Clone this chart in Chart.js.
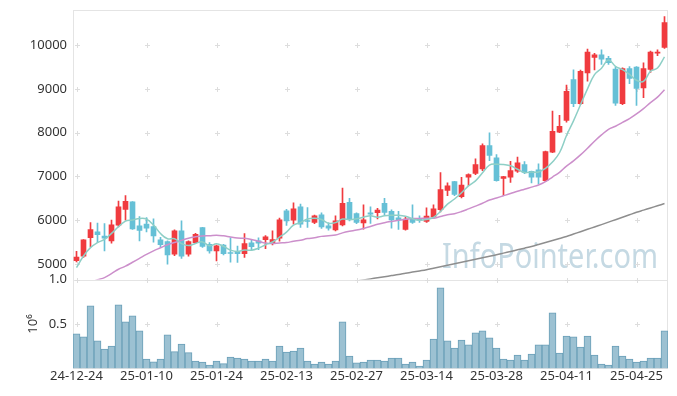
<!DOCTYPE html>
<html>
<head>
<meta charset="utf-8">
<script src="https://cdn.jsdelivr.net/npm/chart.js@4.4.1/dist/chart.umd.min.js"></script>
<style>
  html, body { margin: 0; padding: 0; background: #fff; }
  #wrap { width: 677px; height: 396px; position: relative; }
</style>
</head>
<body>
<div id="wrap"><canvas id="chart"></canvas></div>
<script>
// trading days (YY-MM-DD)
const dates = ['24-12-24','24-12-26','24-12-27','24-12-30','25-01-02','25-01-03','25-01-06','25-01-07','25-01-08','25-01-09',
  '25-01-10','25-01-13','25-01-14','25-01-15','25-01-16','25-01-17','25-01-20','25-01-21','25-01-22','25-01-23',
  '25-01-24','25-01-31','25-02-03','25-02-04','25-02-05','25-02-06','25-02-07','25-02-10','25-02-11','25-02-12',
  '25-02-13','25-02-14','25-02-17','25-02-18','25-02-19','25-02-20','25-02-21','25-02-24','25-02-25','25-02-26',
  '25-02-27','25-02-28','25-03-04','25-03-05','25-03-06','25-03-07','25-03-10','25-03-11','25-03-12','25-03-13',
  '25-03-14','25-03-17','25-03-18','25-03-19','25-03-20','25-03-21','25-03-24','25-03-25','25-03-26','25-03-27',
  '25-03-28','25-03-31','25-04-01','25-04-02','25-04-03','25-04-04','25-04-07','25-04-08','25-04-09','25-04-10',
  '25-04-11','25-04-14','25-04-15','25-04-16','25-04-17','25-04-18','25-04-21','25-04-22','25-04-23','25-04-24',
  '25-04-25','25-04-28','25-04-29','25-04-30','25-05-02'];

const opens = [5075,5180,5600,5734,5640,5527,5888,6245,6420,5872,
  5910,5855,5550,5510,5222,5757,5222,5490,5830,5450,
  5298,5430,5260,5282,5236,5482,5527,5557,5465,5590,
  6216,6002,6307,5980,5947,6124,5872,5780,5894,6406,
  6154,5940,6170,6170,6383,6200,6055,5787,6025,6030,
  5970,6078,6240,6680,6881,6537,6980,7071,7172,7706,
  7424,6957,6980,7118,7270,7117,7150,6904,7553,8012,
  8280,9210,8663,9365,9717,9778,9694,9450,8663,9465,
  9495,9020,9442,9817,9947];

const highs = [5290,5560,5947,5933,5925,6002,6438,6560,6425,6085,
  6060,6030,5610,5530,5780,5986,5530,5700,5840,5490,
  5430,5450,5600,5410,5695,5545,5600,5650,5757,6050,
  6250,6395,6370,6290,6120,6170,5940,6100,6736,6500,
  6170,6353,6307,6270,6500,6238,6200,6070,6353,6100,
  6280,6350,7090,6855,6890,6980,7060,7400,7745,7998,
  7500,7000,7346,7439,7340,7120,7287,7580,8493,8395,
  9083,9434,9430,9908,9810,9890,9740,9500,9480,9510,
  9510,9594,9860,9890,10650];

const lows = [5050,5150,5390,5489,5298,5475,5849,6002,5790,5527,
  5730,5500,5390,4995,5190,5130,5180,5470,5380,5250,
  5070,5210,5040,5035,5150,5310,5330,5350,5435,5520,
  5880,5910,5833,5833,5920,5810,5770,5757,5870,5986,
  5920,5796,5925,6030,6120,5819,5787,5770,5925,5950,
  5947,6048,6190,6560,6560,6507,6789,7041,7133,7362,
  6890,6560,6865,7094,7060,6850,6830,6880,7540,7998,
  8240,8590,8640,9176,9434,9556,9557,8620,8640,9120,
  8624,8800,9374,9760,9924];

const closes = [5160,5550,5787,5672,5590,5894,6307,6430,5800,5765,
  5820,5642,5443,5206,5757,5180,5511,5680,5400,5298,
  5413,5236,5240,5236,5465,5397,5475,5620,5557,6009,
  5986,6261,5910,5970,6100,5849,5819,5986,6383,6025,
  5947,6009,6140,6230,6177,6009,6009,6025,5947,6000,
  6094,6261,6697,6785,6590,6805,7041,7270,7706,7477,
  6904,6995,7133,7309,7094,6980,6980,7569,8028,8142,
  8945,8663,9400,9840,9778,9679,9600,8670,9465,9235,
  9007,9465,9839,9830,10512];

// moving averages as drawn
const ma5 = [4915,5183,5374,5489,5560,5700,5850,5980,6005,6040,
  6025,5890,5695,5575,5575,5465,5420,5470,5505,5415,
  5460,5405,5317,5285,5318,5315,5363,5439,5503,5612,
  5729,5887,5945,6027,6045,6018,5930,5945,6027,6012,
  6032,6070,6101,6070,6101,6113,6113,6090,6033,5998,
  6015,6065,6200,6367,6485,6628,6784,6898,7082,7260,
  7280,7270,7243,7164,7087,7102,7099,7186,7330,7540,
  7933,8269,8636,8998,9325,9472,9659,9513,9437,9330,
  9195,9168,9402,9475,9731];

const ma20 = [4450,4520,4580,4640,4690,4780,4880,4950,5040,5130,
  5220,5300,5370,5440,5490,5540,5590,5620,5640,5646,
  5658,5643,5615,5593,5587,5562,5521,5480,5468,5480,
  5489,5520,5543,5581,5598,5631,5646,5661,5711,5747,
  5774,5812,5857,5907,5943,5973,6000,6020,6040,6039,
  6045,6045,6084,6125,6149,6197,6258,6322,6388,6461,
  6509,6558,6608,6662,6708,6756,6805,6882,6986,7093,
  7236,7356,7491,7644,7803,7947,8075,8145,8233,8320,
  8426,8549,8684,8810,8981];

const ma120 = [null,null,null,null,null,null,null,null,null,null,
  null,null,null,null,null,null,null,null,null,null,
  null,null,null,null,null,null,null,null,null,null,
  null,null,null,null,null,null,null,null,4560,4585,
  4610,4635,4660,4685,4710,4735,4760,4788,4815,4842,
  4870,4904,4938,4972,5006,5040,5074,5108,5142,5176,
  5210,5248,5286,5324,5362,5400,5446,5492,5538,5584,
  5630,5684,5738,5792,5846,5900,5956,6012,6068,6124,
  6180,6230,6280,6330,6380];

// volume, millions
const volume = [0.388,0.354,0.704,0.309,0.218,0.252,0.716,0.524,0.591,0.422,
  0.105,0.075,0.105,0.377,0.188,0.275,0.177,0.083,0.072,0.038,
  0.083,0.053,0.128,0.117,0.105,0.083,0.083,0.105,0.083,0.252,
  0.185,0.196,0.230,0.083,0.049,0.072,0.049,0.083,0.524,0.139,
  0.064,0.072,0.094,0.094,0.083,0.117,0.117,0.049,0.072,0.026,
  0.094,0.331,0.908,0.309,0.230,0.320,0.264,0.399,0.422,0.343,
  0.230,0.105,0.094,0.151,0.094,0.162,0.264,0.264,0.625,0.173,
  0.365,0.354,0.241,0.365,0.151,0.049,0.038,0.252,0.139,0.105,
  0.072,0.083,0.117,0.117,0.422];

const priceTicks = [5000, 6000, 7000, 8000, 9000, 10000];
const volumeTicks = [0.5, 1.0];

const UP = '#f03b3f';
const DOWN = '#66c0d6';
const candleColors = opens.map((o, i) => closes[i] >= o ? UP : DOWN);
const FONT = { family: '"Noto Sans", "DejaVu Sans", sans-serif', size: 13 };
// y labels sit 6px left of the axis: 4px (hidden) tick length + 2px padding
const Y_GRID = { display: false, drawTicks: true, tickLength: 4 };

// frames, grid crosses and watermark
const decor = {
  id: 'decor',
  beforeDatasetsDraw(chart) {
    const { ctx, scales: { x, y, yv } } = chart;
    ctx.save();
    ctx.font = '34px "Noto Sans", sans-serif';
    ctx.fillStyle = '#c5d9e3';
    ctx.textBaseline = 'alphabetic';
    const txt = 'InfoPointer.com';
    const w = ctx.measureText(txt).width;
    ctx.translate(x.right - 226, y.bottom - 12);
    ctx.scale(216 / w, 1);
    ctx.fillText(txt, 0, 0);
    ctx.restore();

    ctx.save();
    ctx.strokeStyle = '#e4e4e4';
    ctx.lineWidth = 1;
    ctx.strokeRect(x.left + 0.5, Math.round(y.top) + 0.5, x.right - x.left - 1, Math.round(y.bottom - y.top));
    ctx.strokeRect(x.left + 0.5, Math.round(yv.top) + 0.5, x.right - x.left - 1, Math.round(yv.bottom - yv.top) - 1);

    ctx.strokeStyle = '#dddddd';
    const rows = priceTicks.map(v => y.getPixelForValue(v))
      .concat(volumeTicks.map(v => yv.getPixelForValue(v)));
    dates.forEach((d, i) => {
      if (i % 10 !== 0) return;
      const px = Math.round(x.getPixelForValue(i)) + 0.5;
      rows.forEach(py => {
        py = Math.round(py) + 0.5;
        ctx.beginPath();
        ctx.moveTo(px - 2.5, py); ctx.lineTo(px + 2.5, py);
        ctx.moveTo(px, py - 2.5); ctx.lineTo(px, py + 2.5);
        ctx.stroke();
      });
    });
    ctx.restore();
  }
};

new Chart(document.getElementById('chart'), {
  type: 'bar',
  data: {
    labels: dates,
    datasets: [
      { type: 'line', label: 'MA5', data: ma5, yAxisID: 'y', borderColor: '#8ecfc6', borderWidth: 1.5,
        pointRadius: 0, tension: 0.4, order: 0 },
      { type: 'line', label: 'MA20', data: ma20, yAxisID: 'y', borderColor: '#cc8fcb', borderWidth: 1.5,
        pointRadius: 0, tension: 0.4, order: 0 },
      { type: 'line', label: 'MA120', data: ma120, yAxisID: 'y', borderColor: '#8e8e8e', borderWidth: 1.5,
        pointRadius: 0, tension: 0.4, order: 0 },
      { label: 'body', data: opens.map((o, i) => [o, closes[i]]), yAxisID: 'y',
        backgroundColor: candleColors, barThickness: 5, minBarLength: 1, grouped: false, order: 1 },
      { label: 'wick', data: lows.map((l, i) => [l, highs[i]]), yAxisID: 'y',
        backgroundColor: candleColors, barThickness: 1, grouped: false, order: 2 },
      { label: 'volume', data: volume, yAxisID: 'yv', backgroundColor: '#9cc1d2', borderColor: '#6a9fb8',
        borderWidth: 1, barPercentage: 1, categoryPercentage: 1, grouped: false, order: 3 }
    ]
  },
  options: {
    responsive: true,
    maintainAspectRatio: false,
    animation: false,
    layout: { padding: { top: 10, right: 9, left: 0, bottom: 12 } },
    plugins: { legend: { display: false }, tooltip: { enabled: false } },
    scales: {
      x: {
        offset: true,
        grid: { display: false, drawTicks: false },
        border: { display: false },
        ticks: {
          autoSkip: false, maxRotation: 0, padding: 0, color: '#333', font: FONT,
          callback: function (val, idx) { return idx % 10 === 0 ? this.getLabelForValue(val) : null; }
        }
      },
      yv: {
        position: 'left', stack: 'panels', stackWeight: 88.5,
        min: 0, max: 1.0,
        grid: Y_GRID,
        border: { display: false },
        title: { display: true, text: '10⁶', color: '#333', font: FONT, padding: { top: 25, bottom: 0 } },
        afterBuildTicks: axis => { axis.ticks = volumeTicks.map(v => ({ value: v })); },
        afterFit: axis => { axis.width = 73; },
        ticks: { padding: 2, color: '#333', font: FONT, callback: v => v.toFixed(1) }
      },
      y: {
        position: 'left', stack: 'panels', stackWeight: 268.5,
        min: 4645, max: 10800,
        grid: Y_GRID,
        border: { display: false },
        afterBuildTicks: axis => { axis.ticks = priceTicks.map(v => ({ value: v })); },
        afterFit: axis => { axis.width = 73; },
        ticks: { padding: 2, color: '#333', font: FONT, callback: v => String(v) }
      }
    }
  },
  plugins: [decor]
});
</script>
</body>
</html>
